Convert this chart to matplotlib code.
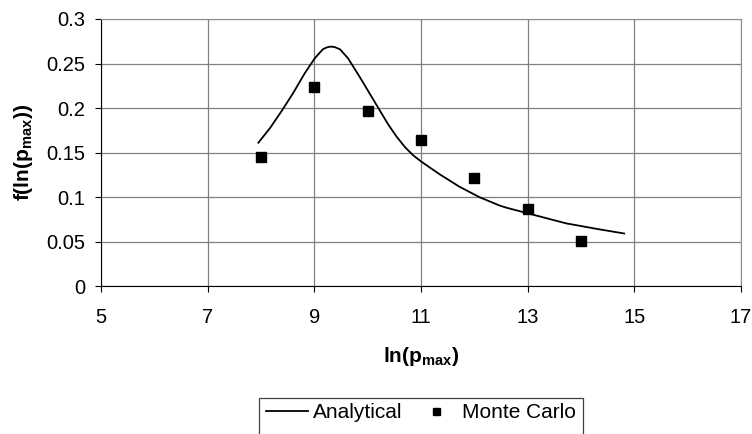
import matplotlib
matplotlib.use('Agg')
import matplotlib.pyplot as plt
from matplotlib.patches import Rectangle
from matplotlib.ticker import FuncFormatter

plt.rcParams['font.family'] = ['Liberation Sans', 'DejaVu Sans']
plt.rcParams['mathtext.fontset'] = 'custom'
plt.rcParams['mathtext.rm'] = 'Liberation Sans:bold'
plt.rcParams['mathtext.bf'] = 'Liberation Sans:bold'
plt.rcParams['mathtext.default'] = 'bf'

# Analytical density curve
analytical_x = [7.95, 8.17, 8.38, 8.60, 8.82, 9.01, 9.16, 9.23, 9.30, 9.38, 9.48, 9.63, 9.85,
                10.10, 10.22, 10.38, 10.54, 10.70, 10.85, 11.00, 11.35, 11.72, 12.10,
                12.47, 12.60, 13.00, 13.72, 14.34, 14.81]
analytical_y = [0.161, 0.1775, 0.196, 0.2165, 0.239, 0.256, 0.266, 0.268, 0.269, 0.2685, 0.266,
                0.256, 0.235, 0.210, 0.198, 0.182, 0.168, 0.156, 0.147, 0.140, 0.1255,
                0.1116, 0.0997, 0.0905, 0.088, 0.0817, 0.0704, 0.0637, 0.059]

# Monte Carlo histogram estimates
mc_x = [8, 9, 10, 11, 12, 13, 14]
mc_y = [0.145, 0.224, 0.197, 0.164, 0.121, 0.087, 0.051]

x_ticks = [5, 7, 9, 11, 13, 15, 17]
y_ticks = [0, 0.05, 0.1, 0.15, 0.2, 0.25, 0.3]

W, H = 752, 434
fig = plt.figure(figsize=(W / 100, H / 100), dpi=100)
ax = fig.add_axes([101 / W, 1 - 286 / H, 640 / W, 267 / H])

ax.plot(analytical_x, analytical_y, color='black', lw=1.3, label='Analytical', zorder=3)
ax.plot(mc_x, mc_y, linestyle='none', marker='s', markersize=7.2, color='black',
        label='Monte Carlo', zorder=4)

ax.set_xlim(5, 17)
ax.set_ylim(0, 0.3)
ax.set_xticks(x_ticks)
ax.set_yticks(y_ticks)
ax.yaxis.set_major_formatter(FuncFormatter(lambda v, p: '%g' % v))
ax.tick_params(direction='out', length=4.5, width=0.8, color='black', labelsize=14.5)
ax.tick_params(axis='x', pad=11.5)
ax.tick_params(axis='y', pad=7)

ax.grid(True, color='#808080', lw=0.9)
ax.set_axisbelow(True)
for side in ['top', 'right']:
    ax.spines[side].set_color('#8c8c8c')
for side in ['left', 'bottom']:
    ax.spines[side].set_color('black')

ax.set_xlabel('ln(p$_{max}$)', fontsize=15, fontweight='bold', labelpad=13)
ax.set_ylabel('f(ln(p$_{max}$))', fontsize=15, fontweight='bold', labelpad=8)

# legend box runs off the bottom edge of the figure
fig.patches.append(Rectangle((259 / W, -0.05), 324 / W, 0.05 + 36 / H,
                             transform=fig.transFigure, facecolor='white',
                             edgecolor='#404040', lw=0.9, zorder=0))
fig.legend(loc='upper center', bbox_to_anchor=(421 / W, 1 - 400 / H), ncol=2,
           fontsize=15, frameon=False,
           handlelength=2.0, handletextpad=0.25, columnspacing=0.6, borderpad=0.15,
           borderaxespad=0, markerscale=0.7)

fig.savefig('out.png', dpi=100)
